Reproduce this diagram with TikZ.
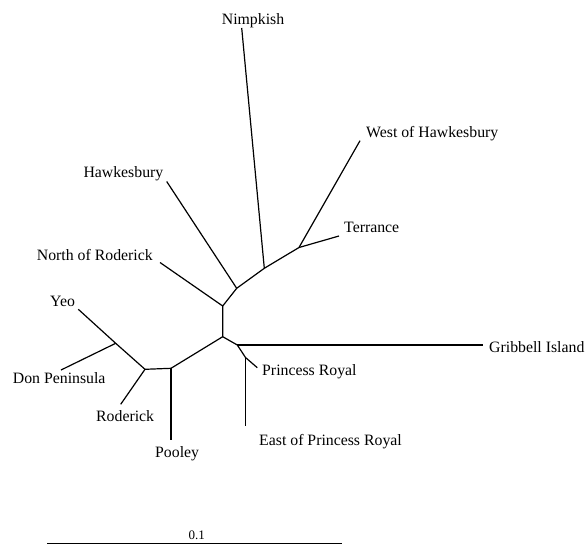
\documentclass[tikz,border=0pt]{standalone}
\usepackage{fontspec}
\setmainfont{Liberation Serif}
\begin{document}
\begin{tikzpicture}[x=1pt,y=-1pt,
  branch/.style={line width=1.2pt, line join=round},
  lbl/.style={anchor=base west, inner sep=0pt, font=\fontsize{15.8}{19}\selectfont},
  scalelbl/.style={anchor=base, inner sep=0pt, font=\fontsize{13}{15}\selectfont}]
\useasboundingbox (0,0) rectangle (585,545);
% internal nodes
\coordinate (R1) at (222.7,306);
\coordinate (H1) at (236.7,288.3);
\coordinate (N1) at (264.3,268.3);
\coordinate (T1) at (299,247.5);
\coordinate (R2) at (222.7,336.7);
\coordinate (P1) at (237.3,345);
\coordinate (P2) at (245.5,357.5);
\coordinate (Q1) at (171,368.3);
\coordinate (Q2) at (145,369.3);
\coordinate (Y1) at (115.7,343.3);
% tips
\coordinate (tNim) at (241.7,28);
\coordinate (tWoH) at (360,140.7);
\coordinate (tTer) at (339,236);
\coordinate (tHaw) at (166.7,181.5);
\coordinate (tNoR) at (160,262.5);
\coordinate (tGri) at (483,345);
\coordinate (tPR) at (257.3,367.7);
\coordinate (tEPR) at (245.5,425.7);
\coordinate (tPoo) at (171,440);
\coordinate (tRod) at (120.7,404.3);
\coordinate (tYeo) at (78.3,309.3);
\coordinate (tDon) at (61,370);
% branches
\draw[branch] (tNoR) -- (R1) -- (H1) -- (N1) -- (T1) -- (tWoH);
\draw[branch] (tHaw) -- (H1);
\draw[branch] (tNim) -- (N1);
\draw[branch] (T1) -- (tTer);
\draw[branch] (R1) -- (R2) -- (P1) -- (P2) -- (tPR);
\draw[branch] (P1) -- (tGri);
\draw[branch] (P2) -- (tEPR);
\draw[branch] (R2) -- (Q1) -- (Q2) -- (Y1) -- (tYeo);
\draw[branch] (Q1) -- (tPoo);
\draw[branch] (Q2) -- (tRod);
\draw[branch] (Y1) -- (tDon);
% labels
\node[lbl] (lNim) at (221.7,25) {Nimpkish};
\node[lbl] (lWoH) at (366,137.3) {West of Hawkesbury};
\node[lbl] (lTer) at (344,232.7) {Terrance};
\node[lbl] (lHaw) at (83.3,177.3) {Hawkesbury};
\node[lbl] (lNoR) at (36.7,260) {North of Roderick};
\node[lbl] (lGri) at (489,352.3) {Gribbell Island};
\node[lbl] (lPR) at (262,375) {Princess Royal};
\node[lbl] (lEPR) at (259,445.7) {East of Princess Royal};
\node[lbl] (lPoo) at (155,457.3) {Pooley};
\node[lbl] (lRod) at (96,421) {Roderick};
\node[lbl] (lYeo) at (50,306.7) {Yeo};
\node[lbl] (lDon) at (12.7,383.3) {Don Peninsula};
% scale bar
\coordinate (sA) at (47.3,543.5);
\coordinate (sB) at (342.3,543.5);
\draw[line width=1.2pt] (sA) -- (sB);
\node[scalelbl] (sL) at (196.7,539.3) {0.1};
\end{tikzpicture}
\end{document}
